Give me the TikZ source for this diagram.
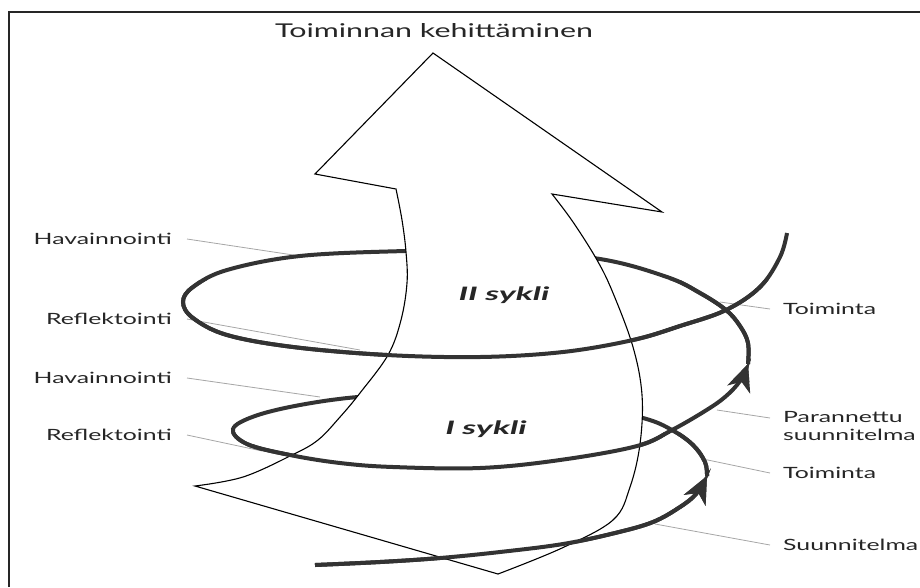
\documentclass[tikz,border=0pt]{standalone}
\usepackage{fontspec}
\setmainfont{Lato}
\newfontfamily\lblfont[FakeStretch=1.6]{Lato}
\newfontfamily\syklifont[FakeStretch=1.85]{Lato}
\usetikzlibrary{arrows.meta}

% the helix, drawn twice: once behind the big arrow, once clipped in front of it
\newcommand{\drawspiral}{%
    \draw[spiralhead] plot[smooth, tension=0.6] coordinates {(315,565) (380,562) (440,558) (500,552) (563,544) (615,533) (653,522) (680,507) (696,494) (707,476)};
    \draw[spiralhead] plot[smooth, tension=0.6] coordinates {(707,476) (705,462) (693,445) (672,430) (643,418) (580,405) (500,398) (420,395) (358,397) (300,405) (255,416) (233,429) (247,444) (290,455) (340,463) (393,467) (480,468) (560,460) (637,446) (672,430) (705,411) (725,397) (740,381) (748,364)};
    \draw[spiral] plot[smooth, tension=0.6] coordinates {(748,364) (748,343) (740,326) (726,310) (700,293) (667,277) (600,259) (500,250) (405,251) (300,256) (227,270) (193,287) (183,302) (193,318) (227,335) (293,347) (387,355) (480,357) (563,352) (633,340) (680,326) (726,310) (760,287) (780,257) (787,233)};
}

\begin{document}
\begin{tikzpicture}[
    x=1pt, y=-1pt,
    frameline/.style={line width=1.5pt, black!85},
    bigarrow/.style={draw=black, fill=white, line width=1.1pt, line join=miter},
    spiral/.style={line width=4pt, black!80},
    spiralhead/.style={spiral, -{Stealth[length=27pt, width=24pt, inset=8pt]}},
    leader/.style={gray!70, line width=0.8pt},
    lbl/.style={font=\lblfont\fontsize{15.5}{18}\selectfont, text=black!85, inner ysep=0pt},
    lblleft/.style={lbl, anchor=east, inner xsep=15pt},
    lblright/.style={lbl, anchor=west, inner xsep=13pt, align=left},
    titletext/.style={font=\lblfont\fontsize{19}{22}\selectfont, text=black!85},
    syklitext/.style={font=\syklifont\bfseries\itshape\fontsize{18.5}{20}\selectfont, text=black!85}
]
    \useasboundingbox (0,0) rectangle (920,587);
    \draw[frameline] (9,587) -- (9,12) -- (920,12);

    \node[titletext] (title) at (434,31) {Toiminnan kehittäminen};

    % labels
    \node[lblleft] (havU) at (187,239) {Havainnointi};
    \node[lblleft] (refU) at (187,319) {Reflektointi};
    \node[lblleft] (havL) at (187,378) {Havainnointi};
    \node[lblleft] (refL) at (187,435) {Reflektointi};
    \node[lblright] (toiU) at (770,309) {Toiminta};
    \node[lblright] (par) at (770,426) {Parannettu\\suunnitelma};
    \node[lblright] (toiL) at (770,473) {Toiminta};
    \node[lblright] (suu) at (770,545) {Suunnitelma};

    \coordinate (havUend) at (300,256);
    \coordinate (refUend) at (360,350);
    \coordinate (havLend) at (320,397);
    \coordinate (refLend) at (262,451);
    \coordinate (toiUend) at (720,302);
    \coordinate (parend) at (717,410);
    \coordinate (toiLend) at (703,459);
    \coordinate (suuend) at (655,524);

    \draw[leader] (havU.east) -- (havUend);
    \draw[leader] (refU.east) -- (refUend);
    \draw[leader] (havL.east) -- (havLend);
    \draw[leader] (refL.east) -- (refLend);
    \draw[leader] (toiU.west) -- (toiUend);
    \draw[leader] ([yshift=8pt]par.west) -- (parend);
    \draw[leader] (toiL.west) -- (toiLend);
    \draw[leader] (suu.west) -- (suuend);

    % spiral behind
    \drawspiral

    % big arrow
    \draw[bigarrow] (433,53) -- (315,174) -- (396,189)
        -- plot[smooth, tension=0.6] coordinates {(396,189) (402,220) (406,252) (407,283) (401,320) (388,355) (360,393) (340,417) (318,440) (292,455) (243,477) (195,486)}
        -- (498,574)
        -- plot[smooth, tension=0.6] coordinates {(498,574) (562,548) (613,520) (630,487) (640,444) (642,395) (633,347) (613,293) (597,260) (573,222) (552,194)}
        -- (662,212) -- cycle;

    % spiral in front
    \begin{scope}
        \clip (0,280) rectangle (920,382) (0,432) rectangle (920,587);
        \drawspiral
    \end{scope}

    \node[syklitext] (sykli2) at (504,295) {II sykli};
    \node[syklitext] (sykli1) at (486,429) {I sykli};
\end{tikzpicture}
\end{document}
